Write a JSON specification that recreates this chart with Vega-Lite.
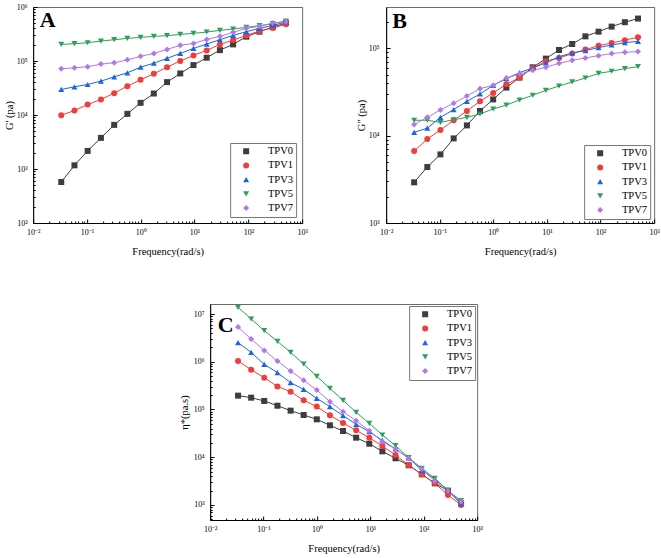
{
  "$schema": "https://vega.github.io/schema/vega-lite/v6.json",
  "background": "white",
  "padding": {"left": 3, "top": 2, "right": 0, "bottom": 0},
  "config": {
    "view": {"stroke": "#6b6b6b", "strokeWidth": 1},
    "font": "Liberation Serif",
    "axis": {
      "domainColor": "#000000", "tickColor": "#000000", "labelColor": "#000000", "titleColor": "#000000",
      "labelFont": "Liberation Serif", "titleFont": "Liberation Serif", "titleFontWeight": "normal",
      "labelFontSize": 8, "titleFontSize": 10.5, "grid": false, "labelFlush": false, "labelOverlap": false, "labelBound": false,
      "domainWidth": 1, "tickWidth": 1
    },
    "legend": {
      "title": null, "padding": 3, "symbolSize": 36, "symbolStrokeWidth": 0, "symbolOffset": 7.75, "labelOffset": 16.5,
      "labelFont": "Liberation Serif", "labelFontSize": 10.5, "labelColor": "#000000", "rowPadding": 3.2,
      "strokeColor": "#777777", "fillColor": "#ffffff", "cornerRadius": 0
    },
    "title": {"font": "Liberation Serif", "fontSize": 22, "fontWeight": "bold", "color": "#000000", "anchor": "start", "frame": "group", "baseline": "alphabetic"}
  },
  "datasets": {
    "A": [
      {"s":"TPV0","f":0.0333,"v":575},{"s":"TPV0","f":0.0586,"v":1170},{"s":"TPV0","f":0.103,"v":2160},{"s":"TPV0","f":0.182,"v":3770},{"s":"TPV0","f":0.321,"v":6560},{"s":"TPV0","f":0.564,"v":10500},{"s":"TPV0","f":0.993,"v":16800},{"s":"TPV0","f":1.75,"v":25000},{"s":"TPV0","f":3.08,"v":40600},{"s":"TPV0","f":5.42,"v":58800},{"s":"TPV0","f":9.55,"v":84000},{"s":"TPV0","f":16.8,"v":115000},{"s":"TPV0","f":29.6,"v":159000},{"s":"TPV0","f":52.1,"v":203000},{"s":"TPV0","f":91.8,"v":282000},{"s":"TPV0","f":161,"v":349000},{"s":"TPV0","f":284,"v":425000},{"s":"TPV0","f":500,"v":505000},
      {"s":"TPV1","f":0.0333,"v":9900},{"s":"TPV1","f":0.0586,"v":12100},{"s":"TPV1","f":0.103,"v":15600},{"s":"TPV1","f":0.182,"v":19400},{"s":"TPV1","f":0.321,"v":25400},{"s":"TPV1","f":0.564,"v":34200},{"s":"TPV1","f":0.993,"v":44900},{"s":"TPV1","f":1.75,"v":58000},{"s":"TPV1","f":3.08,"v":77000},{"s":"TPV1","f":5.42,"v":99600},{"s":"TPV1","f":9.55,"v":127000},{"s":"TPV1","f":16.8,"v":157000},{"s":"TPV1","f":29.6,"v":203000},{"s":"TPV1","f":52.1,"v":244000},{"s":"TPV1","f":91.8,"v":298000},{"s":"TPV1","f":161,"v":359000},{"s":"TPV1","f":284,"v":408000},{"s":"TPV1","f":500,"v":477000},
      {"s":"TPV3","f":0.0333,"v":29700},{"s":"TPV3","f":0.0586,"v":33300},{"s":"TPV3","f":0.103,"v":36700},{"s":"TPV3","f":0.182,"v":42400},{"s":"TPV3","f":0.321,"v":51000},{"s":"TPV3","f":0.564,"v":60500},{"s":"TPV3","f":0.993,"v":77000},{"s":"TPV3","f":1.75,"v":91000},{"s":"TPV3","f":3.08,"v":112000},{"s":"TPV3","f":5.42,"v":138000},{"s":"TPV3","f":9.55,"v":171000},{"s":"TPV3","f":16.8,"v":206000},{"s":"TPV3","f":29.6,"v":248000},{"s":"TPV3","f":52.1,"v":298000},{"s":"TPV3","f":91.8,"v":349000},{"s":"TPV3","f":161,"v":402000},{"s":"TPV3","f":284,"v":457000},{"s":"TPV3","f":500,"v":527000},
      {"s":"TPV5","f":0.0333,"v":203000},{"s":"TPV5","f":0.0586,"v":209000},{"s":"TPV5","f":0.103,"v":218000},{"s":"TPV5","f":0.182,"v":234000},{"s":"TPV5","f":0.321,"v":248000},{"s":"TPV5","f":0.564,"v":262000},{"s":"TPV5","f":0.993,"v":274000},{"s":"TPV5","f":1.75,"v":286000},{"s":"TPV5","f":3.08,"v":294000},{"s":"TPV5","f":5.42,"v":311000},{"s":"TPV5","f":9.55,"v":325000},{"s":"TPV5","f":16.8,"v":344000},{"s":"TPV5","f":29.6,"v":369000},{"s":"TPV5","f":52.1,"v":391000},{"s":"TPV5","f":91.8,"v":420000},{"s":"TPV5","f":161,"v":451000},{"s":"TPV5","f":284,"v":491000},{"s":"TPV5","f":500,"v":550000},
      {"s":"TPV7","f":0.0333,"v":71800},{"s":"TPV7","f":0.0586,"v":74800},{"s":"TPV7","f":0.103,"v":78200},{"s":"TPV7","f":0.182,"v":87700},{"s":"TPV7","f":0.321,"v":92700},{"s":"TPV7","f":0.564,"v":105000},{"s":"TPV7","f":0.993,"v":122000},{"s":"TPV7","f":1.75,"v":138000},{"s":"TPV7","f":3.08,"v":164000},{"s":"TPV7","f":5.42,"v":195000},{"s":"TPV7","f":9.55,"v":212000},{"s":"TPV7","f":16.8,"v":251000},{"s":"TPV7","f":29.6,"v":286000},{"s":"TPV7","f":52.1,"v":339000},{"s":"TPV7","f":91.8,"v":402000},{"s":"TPV7","f":161,"v":438000},{"s":"TPV7","f":284,"v":505000},{"s":"TPV7","f":500,"v":535000}
    ],
    "B": [
      {"s":"TPV0","f":0.0333,"v":2920},{"s":"TPV0","f":0.0586,"v":4380},{"s":"TPV0","f":0.103,"v":6100},{"s":"TPV0","f":0.182,"v":9300},{"s":"TPV0","f":0.321,"v":13100},{"s":"TPV0","f":0.564,"v":19200},{"s":"TPV0","f":0.993,"v":26000},{"s":"TPV0","f":1.75,"v":35500},{"s":"TPV0","f":3.08,"v":46200},{"s":"TPV0","f":5.42,"v":60600},{"s":"TPV0","f":9.55,"v":76200},{"s":"TPV0","f":16.8,"v":95700},{"s":"TPV0","f":29.6,"v":112000},{"s":"TPV0","f":52.1,"v":137000},{"s":"TPV0","f":91.8,"v":155000},{"s":"TPV0","f":161,"v":177000},{"s":"TPV0","f":284,"v":199000},{"s":"TPV0","f":500,"v":219000},
      {"s":"TPV1","f":0.0333,"v":6670},{"s":"TPV1","f":0.0586,"v":9160},{"s":"TPV1","f":0.103,"v":11600},{"s":"TPV1","f":0.182,"v":15000},{"s":"TPV1","f":0.321,"v":19200},{"s":"TPV1","f":0.564,"v":24700},{"s":"TPV1","f":0.993,"v":30800},{"s":"TPV1","f":1.75,"v":38700},{"s":"TPV1","f":3.08,"v":46200},{"s":"TPV1","f":5.42,"v":59600},{"s":"TPV1","f":9.55,"v":71000},{"s":"TPV1","f":16.8,"v":77500},{"s":"TPV1","f":29.6,"v":86900},{"s":"TPV1","f":52.1,"v":96600},{"s":"TPV1","f":91.8,"v":107000},{"s":"TPV1","f":161,"v":115000},{"s":"TPV1","f":284,"v":124000},{"s":"TPV1","f":500,"v":134000},
      {"s":"TPV3","f":0.0333,"v":10900},{"s":"TPV3","f":0.0586,"v":12200},{"s":"TPV3","f":0.103,"v":16200},{"s":"TPV3","f":0.182,"v":19900},{"s":"TPV3","f":0.321,"v":24700},{"s":"TPV3","f":0.564,"v":30000},{"s":"TPV3","f":0.993,"v":37700},{"s":"TPV3","f":1.75,"v":45000},{"s":"TPV3","f":3.08,"v":52600},{"s":"TPV3","f":5.42,"v":59600},{"s":"TPV3","f":9.55,"v":68000},{"s":"TPV3","f":16.8,"v":80300},{"s":"TPV3","f":29.6,"v":88500},{"s":"TPV3","f":52.1,"v":94000},{"s":"TPV3","f":91.8,"v":102000},{"s":"TPV3","f":161,"v":109000},{"s":"TPV3","f":284,"v":116000},{"s":"TPV3","f":500,"v":120000},
      {"s":"TPV5","f":0.0333,"v":15000},{"s":"TPV5","f":0.0586,"v":15000},{"s":"TPV5","f":0.103,"v":14200},{"s":"TPV5","f":0.182,"v":15200},{"s":"TPV5","f":0.321,"v":16200},{"s":"TPV5","f":0.564,"v":17700},{"s":"TPV5","f":0.993,"v":20200},{"s":"TPV5","f":1.75,"v":22400},{"s":"TPV5","f":3.08,"v":25600},{"s":"TPV5","f":5.42,"v":29000},{"s":"TPV5","f":9.55,"v":33000},{"s":"TPV5","f":16.8,"v":37000},{"s":"TPV5","f":29.6,"v":41200},{"s":"TPV5","f":52.1,"v":45700},{"s":"TPV5","f":91.8,"v":51700},{"s":"TPV5","f":161,"v":54600},{"s":"TPV5","f":284,"v":58500},{"s":"TPV5","f":500,"v":61700},
      {"s":"TPV7","f":0.0333,"v":13400},{"s":"TPV7","f":0.0586,"v":16200},{"s":"TPV7","f":0.103,"v":19700},{"s":"TPV7","f":0.182,"v":23500},{"s":"TPV7","f":0.321,"v":28400},{"s":"TPV7","f":0.564,"v":34500},{"s":"TPV7","f":0.993,"v":37700},{"s":"TPV7","f":1.75,"v":45700},{"s":"TPV7","f":3.08,"v":50800},{"s":"TPV7","f":5.42,"v":56000},{"s":"TPV7","f":9.55,"v":60600},{"s":"TPV7","f":16.8,"v":67300},{"s":"TPV7","f":29.6,"v":72900},{"s":"TPV7","f":52.1,"v":77500},{"s":"TPV7","f":91.8,"v":82400},{"s":"TPV7","f":161,"v":86900},{"s":"TPV7","f":284,"v":90000},{"s":"TPV7","f":500,"v":91600}
    ],
    "C": [
      {"s":"TPV0","f":0.0333,"v":195000},{"s":"TPV0","f":0.0586,"v":177000},{"s":"TPV0","f":0.103,"v":151000},{"s":"TPV0","f":0.182,"v":120000},{"s":"TPV0","f":0.321,"v":94600},{"s":"TPV0","f":0.564,"v":76700},{"s":"TPV0","f":0.993,"v":62200},{"s":"TPV0","f":1.75,"v":46600},{"s":"TPV0","f":3.08,"v":35500},{"s":"TPV0","f":5.42,"v":25700},{"s":"TPV0","f":9.55,"v":19200},{"s":"TPV0","f":16.8,"v":13300},{"s":"TPV0","f":29.6,"v":9500},{"s":"TPV0","f":52.1,"v":6780},{"s":"TPV0","f":91.8,"v":4390},{"s":"TPV0","f":161,"v":2840},{"s":"TPV0","f":284,"v":2000},{"s":"TPV0","f":500,"v":1080},
      {"s":"TPV1","f":0.0333,"v":1040000},{"s":"TPV1","f":0.0586,"v":682000},{"s":"TPV1","f":0.103,"v":464000},{"s":"TPV1","f":0.182,"v":305000},{"s":"TPV1","f":0.321,"v":236000},{"s":"TPV1","f":0.564,"v":156000},{"s":"TPV1","f":0.993,"v":115000},{"s":"TPV1","f":1.75,"v":75500},{"s":"TPV1","f":3.08,"v":52100},{"s":"TPV1","f":5.42,"v":36600},{"s":"TPV1","f":9.55,"v":25700},{"s":"TPV1","f":16.8,"v":17200},{"s":"TPV1","f":29.6,"v":11100},{"s":"TPV1","f":52.1,"v":6880},{"s":"TPV1","f":91.8,"v":4390},{"s":"TPV1","f":161,"v":2840},{"s":"TPV1","f":284,"v":1620},{"s":"TPV1","f":500,"v":1000},
      {"s":"TPV3","f":0.0333,"v":2510000},{"s":"TPV3","f":0.0586,"v":1570000},{"s":"TPV3","f":0.103,"v":883000},{"s":"TPV3","f":0.182,"v":591000},{"s":"TPV3","f":0.321,"v":365000},{"s":"TPV3","f":0.564,"v":264000},{"s":"TPV3","f":0.993,"v":171000},{"s":"TPV3","f":1.75,"v":115000},{"s":"TPV3","f":3.08,"v":74300},{"s":"TPV3","f":5.42,"v":48900},{"s":"TPV3","f":9.55,"v":34300},{"s":"TPV3","f":16.8,"v":22600},{"s":"TPV3","f":29.6,"v":14900},{"s":"TPV3","f":52.1,"v":9640},{"s":"TPV3","f":91.8,"v":5320},{"s":"TPV3","f":161,"v":3500},{"s":"TPV3","f":284,"v":2060},{"s":"TPV3","f":500,"v":1050},
      {"s":"TPV5","f":0.0333,"v":13800000},{"s":"TPV5","f":0.0586,"v":7860000},{"s":"TPV5","f":0.103,"v":4480000},{"s":"TPV5","f":0.182,"v":2680000},{"s":"TPV5","f":0.321,"v":1570000},{"s":"TPV5","f":0.564,"v":897000},{"s":"TPV5","f":0.993,"v":495000},{"s":"TPV5","f":1.75,"v":277000},{"s":"TPV5","f":3.08,"v":156000},{"s":"TPV5","f":5.42,"v":87300},{"s":"TPV5","f":9.55,"v":51300},{"s":"TPV5","f":16.8,"v":29200},{"s":"TPV5","f":29.6,"v":17500},{"s":"TPV5","f":52.1,"v":9800},{"s":"TPV5","f":91.8,"v":5860},{"s":"TPV5","f":161,"v":3620},{"s":"TPV5","f":284,"v":2000},{"s":"TPV5","f":500,"v":1230},
      {"s":"TPV7","f":0.0333,"v":5350000},{"s":"TPV7","f":0.0586,"v":2990000},{"s":"TPV7","f":0.103,"v":1730000},{"s":"TPV7","f":0.182,"v":1040000},{"s":"TPV7","f":0.321,"v":640000},{"s":"TPV7","f":0.564,"v":408000},{"s":"TPV7","f":0.993,"v":256000},{"s":"TPV7","f":1.75,"v":146000},{"s":"TPV7","f":3.08,"v":90000},{"s":"TPV7","f":5.42,"v":58300},{"s":"TPV7","f":9.55,"v":36000},{"s":"TPV7","f":16.8,"v":21200},{"s":"TPV7","f":29.6,"v":14900},{"s":"TPV7","f":52.1,"v":9500},{"s":"TPV7","f":91.8,"v":5680},{"s":"TPV7","f":161,"v":3180},{"s":"TPV7","f":284,"v":1960},{"s":"TPV7","f":500,"v":1170}
    ]
  },
  "vconcat": [
    {
      "hconcat": [
        {
          "width": 269, "height": 216,
          "title": {"text": "A", "offset": -29, "dx": 6.6},
          "data": {"name": "A"},
          "encoding": {
            "x": {"field": "f", "type": "quantitative", "scale": {"type": "log", "domain": [0.01, 1000], "nice": false},
              "axis": {"title": "Frequency(rad/s)", "titlePadding": 8, "labelPadding": 9,
                "values": [0.01,0.02,0.03,0.04,0.05,0.06,0.07,0.08,0.09,0.1,0.2,0.3,0.4,0.5,0.6,0.7,0.8,0.9,1,2,3,4,5,6,7,8,9,10,20,30,40,50,60,70,80,90,100,200,300,400,500,600,700,800,900,1000],
                "tickSize": {"condition": {"test": "abs(log(datum.value)/LN10 - round(log(datum.value)/LN10)) < 0.001", "value": -4}, "value": -2},
                "labelExpr": "abs(log(datum.value)/LN10 - round(log(datum.value)/LN10)) < 0.001 ? '10' + (round(log(datum.value)/LN10) < 0 ? '⁻' : '') + substring('⁰¹²³⁴⁵⁶⁷⁸⁹', abs(round(log(datum.value)/LN10)), abs(round(log(datum.value)/LN10)) + 1) : ''"}},
            "y": {"field": "v", "type": "quantitative", "scale": {"type": "log", "domain": [100, 1000000], "nice": false},
              "axis": {"title": "G' (pa)", "titlePadding": 2, "labelPadding": 10,
                "values": [100,200,300,400,500,600,700,800,900,1000,2000,3000,4000,5000,6000,7000,8000,9000,10000,20000,30000,40000,50000,60000,70000,80000,90000,100000,200000,300000,400000,500000,600000,700000,800000,900000,1000000],
                "tickSize": {"condition": {"test": "abs(log(datum.value)/LN10 - round(log(datum.value)/LN10)) < 0.001", "value": -4}, "value": -2},
                "labelExpr": "abs(log(datum.value)/LN10 - round(log(datum.value)/LN10)) < 0.001 ? '10' + (round(log(datum.value)/LN10) < 0 ? '⁻' : '') + substring('⁰¹²³⁴⁵⁶⁷⁸⁹', abs(round(log(datum.value)/LN10)), abs(round(log(datum.value)/LN10)) + 1) : ''"}}
          },
          "layer": [
            {"mark": {"type": "line", "strokeWidth": 1},
             "encoding": {"stroke": {"field": "s", "type": "nominal", "scale": {"domain": ["TPV7","TPV5","TPV3","TPV1","TPV0"], "range": ["#b277e8","#2ca05a","#1a66e0","#f23c3c","#3d3d3d"]}, "legend": null}}},
            {"mark": {"type": "point", "filled": true, "opacity": 1, "size": 36},
             "encoding": {"color": {"field": "s", "type": "nominal", "scale": {"domain": ["TPV0","TPV1","TPV3","TPV5","TPV7"], "range": ["#3d3d3d","#f23c3c","#1a66e0","#2ca05a","#b277e8"]},
               "legend": {"orient": "bottom-right", "offset": 6, "labelFont": "Liberation Serif"}},
               "shape": {"field": "s", "type": "nominal", "scale": {"domain": ["TPV0","TPV1","TPV3","TPV5","TPV7"], "range": ["square","circle","triangle-up","triangle-down","diamond"]},
               "legend": {"orient": "bottom-right", "offset": 6, "labelFont": "Liberation Serif"}}}}
          ]
        },
        {
          "width": 268, "height": 216,
          "title": {"text": "B", "offset": -26, "dx": 6},
          "data": {"name": "B"},
          "encoding": {
            "x": {"field": "f", "type": "quantitative", "scale": {"type": "log", "domain": [0.01, 1000], "nice": false},
              "axis": {"title": "Frequency(rad/s)", "titlePadding": 8, "labelPadding": 9,
                "values": [0.01,0.02,0.03,0.04,0.05,0.06,0.07,0.08,0.09,0.1,0.2,0.3,0.4,0.5,0.6,0.7,0.8,0.9,1,2,3,4,5,6,7,8,9,10,20,30,40,50,60,70,80,90,100,200,300,400,500,600,700,800,900,1000],
                "tickSize": {"condition": {"test": "abs(log(datum.value)/LN10 - round(log(datum.value)/LN10)) < 0.001", "value": -4}, "value": -2},
                "labelExpr": "abs(log(datum.value)/LN10 - round(log(datum.value)/LN10)) < 0.001 ? '10' + (round(log(datum.value)/LN10) < 0 ? '⁻' : '') + substring('⁰¹²³⁴⁵⁶⁷⁸⁹', abs(round(log(datum.value)/LN10)), abs(round(log(datum.value)/LN10)) + 1) : ''"}},
            "y": {"field": "v", "type": "quantitative", "scale": {"type": "log", "domain": [1000, 297000], "nice": false},
              "axis": {"title": "G\" (pa)", "titlePadding": 2, "labelPadding": 11,
                "values": [1000,2000,3000,4000,5000,6000,7000,8000,9000,10000,20000,30000,40000,50000,60000,70000,80000,90000,100000,200000],
                "tickSize": {"condition": {"test": "abs(log(datum.value)/LN10 - round(log(datum.value)/LN10)) < 0.001", "value": -4}, "value": -2},
                "labelExpr": "abs(log(datum.value)/LN10 - round(log(datum.value)/LN10)) < 0.001 ? '10' + (round(log(datum.value)/LN10) < 0 ? '⁻' : '') + substring('⁰¹²³⁴⁵⁶⁷⁸⁹', abs(round(log(datum.value)/LN10)), abs(round(log(datum.value)/LN10)) + 1) : ''"}}
          },
          "layer": [
            {"mark": {"type": "line", "strokeWidth": 1},
             "encoding": {"stroke": {"field": "s", "type": "nominal", "scale": {"domain": ["TPV7","TPV5","TPV3","TPV1","TPV0"], "range": ["#b277e8","#2ca05a","#1a66e0","#f23c3c","#3d3d3d"]}, "legend": null}}},
            {"mark": {"type": "point", "filled": true, "opacity": 1, "size": 36},
             "encoding": {"color": {"field": "s", "type": "nominal", "scale": {"domain": ["TPV0","TPV1","TPV3","TPV5","TPV7"], "range": ["#3d3d3d","#f23c3c","#1a66e0","#2ca05a","#b277e8"]},
               "legend": {"orient": "bottom-right", "offset": 4, "labelFont": "Liberation Serif"}},
               "shape": {"field": "s", "type": "nominal", "scale": {"domain": ["TPV0","TPV1","TPV3","TPV5","TPV7"], "range": ["square","circle","triangle-up","triangle-down","diamond"]},
               "legend": {"orient": "bottom-right", "offset": 4, "labelFont": "Liberation Serif"}}}}
          ]
        }
      ],
      "spacing": 47,
      "resolve": {"scale": {"color": "independent", "stroke": "independent", "shape": "independent", "x": "independent", "y": "independent"}, "legend": {"color": "independent", "shape": "independent"}}
    },
    {
      "width": 267, "height": 216,
      "title": {"text": "C", "offset": -32.5, "dx": 7.5},
      "data": {"name": "C"},
      "encoding": {
        "x": {"field": "f", "type": "quantitative", "scale": {"type": "log", "domain": [0.01, 1000], "nice": false},
          "axis": {"title": "Frequency(rad/s)", "titlePadding": 8, "labelPadding": 9,
            "values": [0.01,0.02,0.03,0.04,0.05,0.06,0.07,0.08,0.09,0.1,0.2,0.3,0.4,0.5,0.6,0.7,0.8,0.9,1,2,3,4,5,6,7,8,9,10,20,30,40,50,60,70,80,90,100,200,300,400,500,600,700,800,900,1000],
            "tickSize": {"condition": {"test": "abs(log(datum.value)/LN10 - round(log(datum.value)/LN10)) < 0.001", "value": -4}, "value": -2},
            "labelExpr": "abs(log(datum.value)/LN10 - round(log(datum.value)/LN10)) < 0.001 ? '10' + (round(log(datum.value)/LN10) < 0 ? '⁻' : '') + substring('⁰¹²³⁴⁵⁶⁷⁸⁹', abs(round(log(datum.value)/LN10)), abs(round(log(datum.value)/LN10)) + 1) : ''"}},
        "y": {"field": "v", "type": "quantitative", "scale": {"type": "log", "domain": [485, 16200000], "nice": false},
          "axis": {"title": "η*(pa.s)", "titlePadding": 4, "labelPadding": 10,
            "values": [500,600,700,800,900,1000,2000,3000,4000,5000,6000,7000,8000,9000,10000,20000,30000,40000,50000,60000,70000,80000,90000,100000,200000,300000,400000,500000,600000,700000,800000,900000,1000000,2000000,3000000,4000000,5000000,6000000,7000000,8000000,9000000,10000000],
            "tickSize": {"condition": {"test": "abs(log(datum.value)/LN10 - round(log(datum.value)/LN10)) < 0.001", "value": -4}, "value": -2},
            "labelExpr": "abs(log(datum.value)/LN10 - round(log(datum.value)/LN10)) < 0.001 ? '10' + (round(log(datum.value)/LN10) < 0 ? '⁻' : '') + substring('⁰¹²³⁴⁵⁶⁷⁸⁹', abs(round(log(datum.value)/LN10)), abs(round(log(datum.value)/LN10)) + 1) : ''"}}
      },
      "layer": [
        {"mark": {"type": "line", "strokeWidth": 1},
         "encoding": {"stroke": {"field": "s", "type": "nominal", "scale": {"domain": ["TPV7","TPV5","TPV3","TPV1","TPV0"], "range": ["#b277e8","#2ca05a","#1a66e0","#f23c3c","#3d3d3d"]}, "legend": null}}},
        {"mark": {"type": "point", "filled": true, "opacity": 1, "size": 36},
         "encoding": {"color": {"field": "s", "type": "nominal", "scale": {"domain": ["TPV0","TPV1","TPV3","TPV5","TPV7"], "range": ["#3d3d3d","#f23c3c","#1a66e0","#2ca05a","#b277e8"]},
           "legend": {"orient": "top-right", "offset": 2, "labelFont": "Liberation Serif"}},
           "shape": {"field": "s", "type": "nominal", "scale": {"domain": ["TPV0","TPV1","TPV3","TPV5","TPV7"], "range": ["square","circle","triangle-up","triangle-down","diamond"]},
           "legend": {"orient": "top-right", "offset": 2, "labelFont": "Liberation Serif"}}}}
      ]
    }
  ],
  "spacing": 46,
  "center": true,
  "resolve": {"scale": {"color": "independent", "stroke": "independent", "shape": "independent", "x": "independent", "y": "independent"}, "legend": {"color": "independent", "shape": "independent"}}
}
